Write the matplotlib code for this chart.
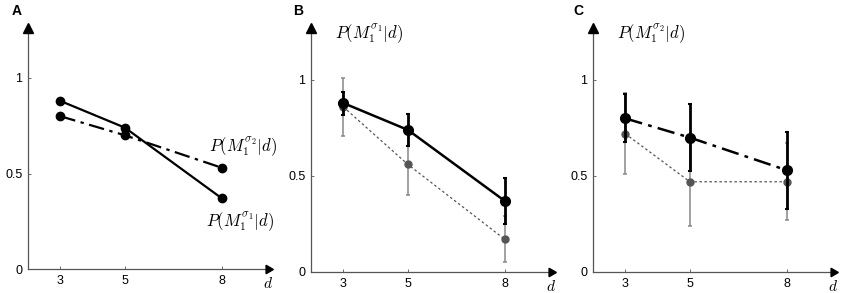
import matplotlib
matplotlib.use("Agg")
import matplotlib.pyplot as plt

plt.rcParams['font.family'] = ['Liberation Sans', 'DejaVu Sans']
plt.rcParams['mathtext.fontset'] = 'cm'

d_vals = [3, 5, 8]
xtick_labels = ['3', '5', '8']
ytick_vals = [0, 0.5, 1]
ytick_labels = ['0', '0.5', '1']

# Panel A
a_sigma1 = [0.88, 0.74, 0.37]
a_sigma2 = [0.80, 0.70, 0.53]

# Panel B
b_black = [0.88, 0.74, 0.37]
b_black_err = [0.06, 0.085, 0.12]
b_gray = [0.86, 0.56, 0.17]
b_gray_err = [0.15, 0.16, 0.12]

# Panel C
c_black = [0.80, 0.70, 0.53]
c_black_err = [0.125, 0.175, 0.20]
c_gray = [0.72, 0.47, 0.47]
c_gray_err = [0.21, 0.23, 0.20]

label_s1 = r'$P(M_1^{\sigma_1}|d)$'
label_s2 = r'$P(M_1^{\sigma_2}|d)$'

W, H = 843, 293
fig = plt.figure(figsize=(W / 100, H / 100), dpi=100)

def make_axes(left_px, y0_px, y1_px, top_px=28, width_px=240):
    # y0_px: pixel row of y=0, y1_px: pixel row of y=1
    per = y0_px - y1_px
    ytop = (y0_px - top_px) / per
    ax = fig.add_axes([left_px / W, (H - y0_px) / H, width_px / W, (y0_px - top_px) / H])
    ax.set_xlim(2, 2 + width_px / 32.3)
    ax.set_ylim(0, ytop)
    for s in ['top', 'right']:
        ax.spines[s].set_visible(False)
    for s in ['left', 'bottom']:
        ax.spines[s].set_color('#555555')
        ax.spines[s].set_linewidth(0.9)
    ax.set_xticks(d_vals)
    ax.set_xticklabels(xtick_labels)
    ax.set_yticks(ytick_vals)
    ax.set_yticklabels(ytick_labels)
    ax.tick_params(direction='in', length=2.5, width=0.6, colors='#555555',
                   labelcolor='black', labelsize=9, pad=4)
    # arrowheads
    ax.plot(1, 0, marker=(3, 0, -90), markersize=7, color='black',
            transform=ax.transAxes, clip_on=False, zorder=5)
    ax.plot(0, 1, marker='^', markersize=7, color='black',
            transform=ax.transAxes, clip_on=False, zorder=5)
    ax.annotate(r'$d$', xy=(1.0, 0), xycoords='axes fraction',
                xytext=(0, -5), textcoords='offset points',
                ha='center', va='top', fontsize=11)
    return ax

axA = make_axes(28, 269, 78)
axB = make_axes(311, 272, 80)
axC = make_axes(593, 272, 80)

# Panel A
axA.plot(d_vals, a_sigma1, '-', color='black', lw=1.6, marker='o', ms=6, zorder=3)
axA.plot(d_vals, a_sigma2, color='black', lw=1.6, linestyle=(0, (7, 2.5, 1.5, 2.5)),
         marker='o', ms=6, zorder=3)
axA.text(d_vals[2] - 0.4, a_sigma2[2] + 0.05, label_s2, fontsize=12, ha='left', va='bottom')
axA.text(d_vals[2] - 0.5, a_sigma1[2] - 0.06, label_s1, fontsize=12, ha='left', va='top')

# Panel B
axB.errorbar(d_vals, b_gray, yerr=b_gray_err, color='#555555', ecolor='#888888',
             lw=0.9, linestyle=(0, (2, 2)), marker='o', ms=5, elinewidth=1.1,
             capsize=1.5, capthick=1.1, zorder=2)
axB.errorbar(d_vals, b_black, yerr=b_black_err, color='black', ecolor='black',
             lw=1.8, marker='o', ms=7, elinewidth=2.0, capsize=1.5, capthick=1.5, zorder=3)
axB.text(0.10, 1.025, label_s1, transform=axB.transAxes, fontsize=12, ha='left', va='top')

# Panel C
axC.errorbar(d_vals, c_gray, yerr=c_gray_err, color='#555555', ecolor='#888888',
             lw=0.9, linestyle=(0, (2, 2)), marker='o', ms=5, elinewidth=1.1,
             capsize=1.5, capthick=1.1, zorder=2)
axC.errorbar(d_vals, c_black, yerr=c_black_err, color='black', ecolor='black',
             lw=1.8, linestyle=(0, (7, 2.5, 1.5, 2.5)), marker='o', ms=7,
             elinewidth=2.0, capsize=1.5, capthick=1.5, zorder=3)
axC.text(0.10, 1.025, label_s2, transform=axC.transAxes, fontsize=12, ha='left', va='top')

for lab, xpx in [('A', 12), ('B', 293), ('C', 573)]:
    fig.text(xpx / W, 1 - 4 / H, lab, fontsize=10, fontweight='bold', ha='left', va='top')

fig.savefig('out.png', dpi=100)
